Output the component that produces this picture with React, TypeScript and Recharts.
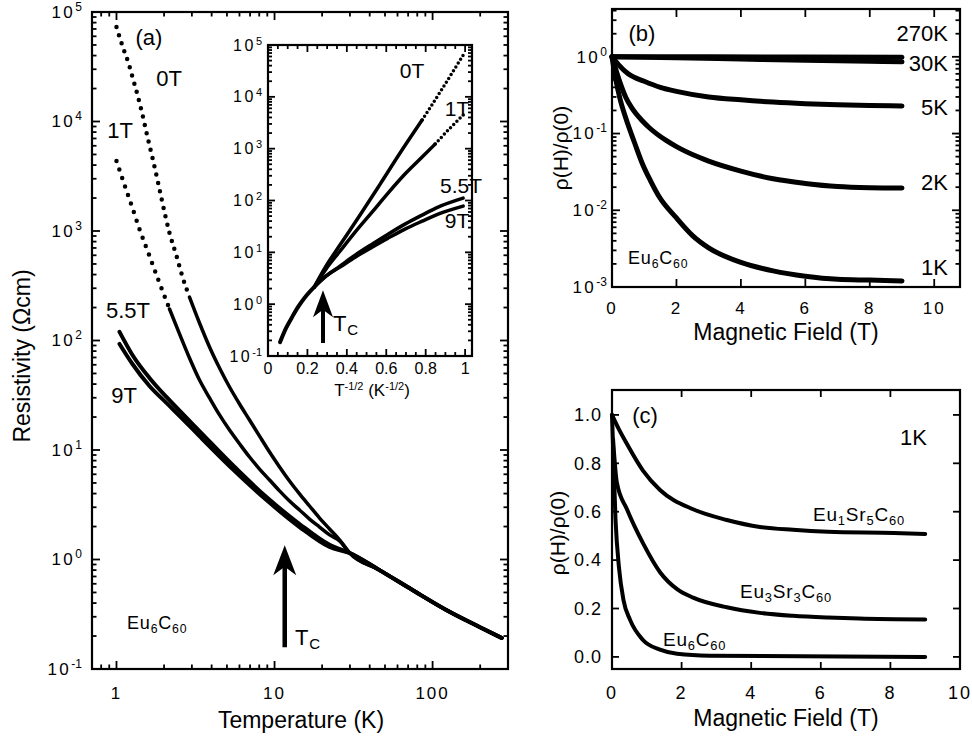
import React from 'react';
import { ComposedChart, Line, XAxis, YAxis, ReferenceLine } from 'recharts';

const FONT = '"Liberation Sans", Arial, Helvetica, sans-serif';

// ---------- panel (a): resistivity vs temperature (log-log) ----------
const t0TLow = [1, 1.06, 1.124, 1.191, 1.262, 1.358, 1.461, 1.571, 1.69, 1.818, 1.955, 2.165, 2.397, 2.617, 2.897];
const rho0TLow = [72900, 55500, 43200, 34200, 25500, 17500, 11500, 7210, 4650, 2920, 1800, 960, 592, 380, 249];
const t0THigh = [2.897, 3.352, 3.878, 4.487, 5.191, 6.005, 6.947, 8.037, 9.299, 10.76, 12.44, 14.4, 16.65, 19.27, 22.29, 25.79];
const rho0THigh = [249, 144.5, 87.3, 56.1, 37.6, 26.3, 18.8, 13.4, 9.59, 7.0, 5.21, 3.97, 3.08, 2.39, 1.9, 1.51];

const t1TLow = [1, 1.124, 1.262, 1.398, 1.617, 1.871, 2.165];
const rho1TLow = [4360, 2630, 1620, 1040, 592, 335, 194];
const t1THigh = [2.165, 2.505, 2.897, 3.352, 3.878, 4.487, 5.191, 6.005, 6.947, 8.037, 9.299, 10.76, 12.44, 14.4, 16.65, 19.27, 22.29, 25.79];
const rho1THigh = [194, 115, 69.2, 43.5, 29.9, 20.9, 15.2, 11.4, 8.63, 6.7, 5.32, 4.23, 3.42, 2.83, 2.34, 1.98, 1.68, 1.48];

const tHighField = [1.045, 1.262, 1.617, 2.07, 2.7, 3.35, 5.43, 8.89, 14.4, 22.3];
const rho55T = [120, 73.8, 45.5, 30.5, 20.5, 14.9, 7.3, 3.72, 2.11, 1.36];
const rho9T = [93, 61, 38.4, 26.9, 18.4, 13.4, 6.7, 3.49, 1.98, 1.3];

const tTail = [29.9, 46.1, 74.6, 122, 198, 274];
const rhoTail = [1.146, 0.8, 0.526, 0.346, 0.242, 0.192];

// ---------- inset: resistivity vs T^-1/2 ----------
const uCommon = [0.061, 0.0914, 0.122, 0.152, 0.188, 0.234];
const rhoCommon = [0.185, 0.344, 0.561, 0.875, 1.36, 2.13];
const u0T = [0.234, 0.294, 0.365, 0.467, 0.569, 0.67, 0.782];
const rhoIn0T = [2.13, 5.42, 13.8, 52.3, 207, 822, 3565];
const u0TDots = [0.782, 0.883, 1.0];
const rhoIn0TDots = [3565, 14150, 73300];
const u1T = [0.234, 0.294, 0.365, 0.442, 0.528, 0.609, 0.695, 0.782, 0.848];
const rhoIn1T = [2.13, 4.74, 10.5, 24.5, 59.7, 139, 324, 689, 1227];
const u1TDots = [0.848, 0.924, 1.0];
const rhoIn1TDots = [1227, 2500, 4860];
const uHigh = [0.234, 0.294, 0.365, 0.442, 0.528, 0.609, 0.695, 0.782, 0.863, 0.99];
const rhoIn55T = [2.13, 3.47, 5.42, 8.83, 14.4, 22.4, 35.0, 52.3, 74.6, 111];
const rhoIn9T = [2.13, 3.47, 5.18, 8.07, 12.6, 18.8, 28.1, 40.0, 54.6, 78];

// ---------- panel (b): normalized MR of Eu6C60 ----------
const h270K = [0, 3, 6, 9];
const r270K = [1, 1, 0.995, 0.99];
const h30K = [0, 2, 4, 6, 8, 9];
const r30K = [1, 0.975, 0.935, 0.9, 0.875, 0.86];
const h5K = [0, 0.2, 0.5, 1, 1.5, 2, 3, 4, 5, 6, 7, 8, 9];
const r5K = [1, 0.79, 0.6, 0.48, 0.4, 0.355, 0.3, 0.275, 0.257, 0.245, 0.237, 0.232, 0.229];
const h2K = [0, 0.22, 0.43, 0.62, 0.93, 1.15, 1.68, 2, 2.7, 3, 4, 5, 6, 7, 8, 9];
const r2K = [1, 0.501, 0.295, 0.214, 0.148, 0.12, 0.0813, 0.0676, 0.049, 0.0437, 0.0324, 0.0257, 0.0224, 0.0204, 0.0197, 0.0195];
const h1K = [0, 0.12, 0.25, 0.43, 0.7, 0.93, 1.2, 1.46, 2, 2.5, 3, 4, 5, 6, 7, 8, 9];
const r1K = [1, 0.501, 0.282, 0.158, 0.0759, 0.0417, 0.024, 0.0151, 0.00794, 0.00468, 0.00324, 0.00209, 0.00162, 0.00138, 0.00126, 0.00123, 0.0012];

// ---------- panel (c): 1 K, three compounds ----------
const hEu1 = [0, 0.2, 0.43, 0.89, 1.38, 2.33, 3.3, 4.25, 5.2, 6.2, 8.1, 9];
const rEu1 = [1, 0.94, 0.88, 0.77, 0.69, 0.61, 0.566, 0.537, 0.525, 0.517, 0.512, 0.508];
const hEu3 = [0.03, 0.14, 0.43, 0.89, 1.38, 1.87, 2.33, 3.3, 4.25, 5.2, 6.2, 7.1, 9];
const rEu3 = [0.9, 0.72, 0.61, 0.47, 0.35, 0.28, 0.245, 0.205, 0.182, 0.17, 0.163, 0.159, 0.155];
const hEu6 = [0, 0.1, 0.2, 0.33, 0.52, 0.89, 1.38, 1.87, 2.8, 9];
const rEu6 = [1, 0.57, 0.37, 0.235, 0.153, 0.07, 0.03, 0.013, 0.005, 0];

// ---------- ticks ----------
const mainXDecades = [0.1, 1, 10, 100];
const mainXMajors = [1, 10, 100];
const mainYDecades = [0.1, 1, 10, 100, 1000, 10000, 100000];
const insetXMajors = [0, 0.2, 0.4, 0.6, 0.8, 1];
const insetXMinors = [0.05, 0.1, 0.15, 0.25, 0.3, 0.35, 0.45, 0.5, 0.55, 0.65, 0.7, 0.75, 0.85, 0.9, 0.95];
const bYDecades = [0.001, 0.01, 0.1, 1];
const fieldTicks = [0, 2, 4, 6, 8, 10];
const cYTicks = [0, 0.2, 0.4, 0.6, 0.8, 1.0];

const withMinors = (dec: number[], lo: number, hi: number) =>
  dec
    .flatMap((d) => [1, 2, 3, 4, 5, 6, 7, 8, 9].map((k) => k * d))
    .filter((v) => v > lo * 1.001 && v < hi * 0.999);

const pts = (xs: number[], ys: number[]) => xs.map((x, i) => ({ x, y: ys[i] }));

const isIn = (list: number[], v: number) =>
  list.some((m) => Math.abs(m - v) <= Math.abs(m) * 1e-6 + 1e-9);

const pow10 = (sup: number, rise: number) => (v: number) => {
  const e = Math.round(Math.log10(v));
  return (
    <>
      <tspan letterSpacing={2.5}>10</tspan>
      <tspan dy={-rise} fontSize={sup}>{e}</tspan>
    </>
  );
};
const plain = (v: number) => <tspan letterSpacing={2}>{String(v)}</tspan>;
const oneDec = (v: number) => <tspan letterSpacing={1}>{v.toFixed(1)}</tspan>;
const insetX = (v: number) => (v === 0 || v === 1 ? String(v) : v.toFixed(1));

interface AxisSpec {
  scale: 'log' | 'linear';
  domain: [number, number];
  ticks: number[];
  majors: number[];
  label: (v: number) => React.ReactNode;
  offset: number;
}
interface Panel {
  left: number; top: number; right: number; bottom: number; // plot area on the page
  padL: number; padB: number; padT: number; padR: number;
  x: AxisSpec; y: AxisSpec;
  majorLen: number; minorLen: number; fontSize: number;
}

const panelA: Panel = {
  left: 92, top: 12, right: 508, bottom: 669, padL: 92, padB: 68, padT: 12, padR: 10,
  x: { scale: 'log', domain: [0.7, 300], ticks: withMinors(mainXDecades, 0.7, 300), majors: mainXMajors, label: plain, offset: 30 },
  y: { scale: 'log', domain: [0.1, 100000], ticks: withMinors(mainYDecades, 0.05, 200000), majors: mainYDecades, label: pow10(12, 7), offset: 10 },
  majorLen: 8, minorLen: 4.5, fontSize: 17,
};
const panelInset: Panel = {
  left: 268, top: 45, right: 472, bottom: 356, padL: 60, padB: 40, padT: 10, padR: 6,
  x: { scale: 'linear', domain: [0, 1.035], ticks: insetXMajors.concat(insetXMinors), majors: insetXMajors, label: insetX, offset: 18 },
  y: { scale: 'log', domain: [0.1, 100000], ticks: withMinors(mainYDecades, 0.05, 200000), majors: mainYDecades, label: pow10(11, 6), offset: 6 },
  majorLen: 7, minorLen: 4, fontSize: 16,
};
const panelB: Panel = {
  left: 612, top: 9, right: 960, bottom: 287, padL: 60, padB: 40, padT: 9, padR: 12,
  x: { scale: 'linear', domain: [0, 10.8], ticks: fieldTicks, majors: fieldTicks, label: plain, offset: 27 },
  y: { scale: 'log', domain: [0.001, 4.2], ticks: withMinors(bYDecades, 0.0009, 4.5), majors: bYDecades, label: pow10(12, 7), offset: 5 },
  majorLen: 8, minorLen: 4.5, fontSize: 17,
};
const panelC: Panel = {
  left: 612, top: 390, right: 960, bottom: 669, padL: 60, padB: 40, padT: 9, padR: 12,
  x: { scale: 'linear', domain: [0, 10], ticks: fieldTicks, majors: fieldTicks, label: plain, offset: 30 },
  y: { scale: 'linear', domain: [-0.05, 1.103], ticks: cYTicks, majors: cYTicks, label: oneDec, offset: 10 },
  majorLen: 7, minorLen: 4, fontSize: 18,
};

// axis tick labels
function makeLabel(side: 'bottom' | 'left', a: AxisSpec, fontSize: number) {
  return (props: any) => {
    const x = Number(props.x);
    const y = Number(props.y);
    const v = Number(props.payload.value);
    if (!isIn(a.majors, v)) return <g />;
    return side === 'bottom' ? (
      <text x={x} y={y + a.offset} textAnchor="middle" fontSize={fontSize} fontFamily={FONT} fill="#000">
        {a.label(v)}
      </text>
    ) : (
      <text x={x - a.offset} y={y} dy="0.35em" textAnchor="end" fontSize={fontSize} fontFamily={FONT} fill="#000">
        {a.label(v)}
      </text>
    );
  };
}

function PanelChart({ p, children }: { p: Panel; children: React.ReactNode }) {
  const common = { type: 'number' as const, interval: 0 as const, tickSize: 0, tickMargin: 0, tickLine: false, axisLine: false };
  return (
    <div style={{ position: 'absolute', left: p.left - p.padL, top: p.top - p.padT }}>
      <ComposedChart width={p.right - p.left + p.padL + p.padR} height={p.bottom - p.top + p.padT + p.padB}
        margin={{ top: p.padT, right: p.padR, bottom: 0, left: 0 }}>
        <XAxis xAxisId="b" dataKey="x" scale={p.x.scale} domain={p.x.domain} ticks={p.x.ticks} height={p.padB}
          tick={makeLabel('bottom', p.x, p.fontSize)} {...common} />
        <YAxis yAxisId="l" dataKey="y" scale={p.y.scale} domain={p.y.domain} ticks={p.y.ticks} width={p.padL}
          tick={makeLabel('left', p.y, p.fontSize)} {...common} />
        {children}
      </ComposedChart>
    </div>
  );
}

// frame with inward ticks on all four sides, placed on the same plot rectangle
function FrameTicks({ p }: { p: Panel }) {
  const f = (s: 'log' | 'linear') => (s === 'log' ? Math.log10 : (v: number) => v);
  const fx = f(p.x.scale);
  const fy = f(p.y.scale);
  const px = (v: number) =>
    p.left + ((fx(v) - fx(p.x.domain[0])) / (fx(p.x.domain[1]) - fx(p.x.domain[0]))) * (p.right - p.left);
  const py = (v: number) =>
    p.bottom - ((fy(v) - fy(p.y.domain[0])) / (fy(p.y.domain[1]) - fy(p.y.domain[0]))) * (p.bottom - p.top);
  return (
    <g stroke="#000" strokeWidth={1.8}>
      {p.x.ticks.map((v) => {
        const L = isIn(p.x.majors, v) ? p.majorLen : p.minorLen;
        const X = px(v);
        return (
          <g key={`x${v}`}>
            <line x1={X} y1={p.bottom} x2={X} y2={p.bottom - L} />
            <line x1={X} y1={p.top} x2={X} y2={p.top + L} />
          </g>
        );
      })}
      {p.y.ticks.map((v) => {
        const L = isIn(p.y.majors, v) ? p.majorLen : p.minorLen;
        const Y = py(v);
        return (
          <g key={`y${v}`}>
            <line x1={p.left} y1={Y} x2={p.left + L} y2={Y} />
            <line x1={p.right} y1={Y} x2={p.right - L} y2={Y} />
          </g>
        );
      })}
      <rect x={p.left} y={p.top} width={p.right - p.left} height={p.bottom - p.top} fill="none" strokeWidth={2.2} />
    </g>
  );
}

function curve(key: string, xs: number[], ys: number[], width: number, dash?: string) {
  return (
    <Line key={key} xAxisId="b" yAxisId="l" data={pts(xs, ys)} dataKey="y" type="monotone"
      stroke="#000" strokeWidth={width} strokeDasharray={dash} strokeLinecap="round"
      dot={false} activeDot={false} isAnimationActive={false} />
  );
}

const arrow = (headLen: number, half: number, width: number) => (p: any) => {
  const tipTop = p.y1 < p.y2;
  const tx = tipTop ? p.x1 : p.x2;
  const ty = tipTop ? p.y1 : p.y2;
  const bx = tipTop ? p.x2 : p.x1;
  const by = tipTop ? p.y2 : p.y1;
  return (
    <g>
      <line x1={bx} y1={by} x2={tx} y2={ty + headLen * 0.6} stroke="#000" strokeWidth={width} />
      <polygon
        points={`${tx},${ty} ${tx - half},${ty + headLen} ${tx},${ty + headLen * 0.72} ${tx + half},${ty + headLen}`}
        fill="#000" />
    </g>
  );
};

const Formula = ({ x, y, parts, size }: { x: number; y: number; parts: [string, string][]; size: number }) => (
  <text x={x} y={y} fontSize={size} fontFamily={FONT} letterSpacing={0.8}>
    {parts.map(([main, sub], i) => (
      <React.Fragment key={i}>
        <tspan dy={i === 0 ? 0 : -4}>{main}</tspan>
        <tspan dy={4} fontSize={size * 0.68}>{sub}</tspan>
      </React.Fragment>
    ))}
  </text>
);

export default function App() {
  return (
    <div style={{ position: 'absolute', left: 0, top: 0, width: 972, height: 737, background: '#fff' }}>
      <PanelChart p={panelA}>
        {curve('a0l', t0TLow, rho0TLow, 4.5, '0 8.5')}
        {curve('a0h', t0THigh.concat(tTail), rho0THigh.concat(rhoTail), 3.5)}
        {curve('a1l', t1TLow, rho1TLow, 4.5, '0 9')}
        {curve('a1h', t1THigh.concat(tTail), rho1THigh.concat(rhoTail), 3.5)}
        {curve('a55', tHighField.concat(tTail), rho55T.concat(rhoTail), 4)}
        {curve('a9', tHighField.concat(tTail), rho9T.concat(rhoTail), 4)}
        <ReferenceLine xAxisId="b" yAxisId="l" segment={[{ x: 11.6, y: 0.158 }, { x: 11.6, y: 1.35 }]}
          shape={arrow(30, 11.5, 4.5)} />
      </PanelChart>

      <PanelChart p={panelInset}>
        {curve('iC', uCommon, rhoCommon, 4)}
        {curve('i0', u0T, rhoIn0T, 3.5)}
        {curve('i0d', u0TDots, rhoIn0TDots, 3.5, '0 4.5')}
        {curve('i1', u1T, rhoIn1T, 3.5)}
        {curve('i1d', u1TDots, rhoIn1TDots, 3.5, '0 4.5')}
        {curve('i55', uHigh, rhoIn55T, 3.5)}
        {curve('i9', uHigh, rhoIn9T, 3.5)}
        <ReferenceLine xAxisId="b" yAxisId="l" segment={[{ x: 0.279, y: 0.178 }, { x: 0.279, y: 1.86 }]}
          shape={arrow(27, 10, 4)} />
      </PanelChart>

      <PanelChart p={panelB}>
        {curve('b270', h270K, r270K, 5)}
        {curve('b30', h30K, r30K, 5)}
        {curve('b5', h5K, r5K, 5)}
        {curve('b2', h2K, r2K, 5)}
        {curve('b1', h1K, r1K, 5)}
      </PanelChart>

      <PanelChart p={panelC}>
        {curve('cEu1', hEu1, rEu1, 4)}
        {curve('cEu3', hEu3, rEu3, 4)}
        {curve('cEu6', hEu6, rEu6, 4)}
      </PanelChart>

      {/* frames, ticks and text */}
      <svg width={972} height={737} style={{ position: 'absolute', left: 0, top: 0, pointerEvents: 'none' }}
        fontFamily={FONT} fill="#000">
        <FrameTicks p={panelA} />
        <FrameTicks p={panelInset} />
        <FrameTicks p={panelB} />
        <FrameTicks p={panelC} />

        <text x={22} y={356} fontSize={23} textAnchor="middle" dominantBaseline="central" transform="rotate(-90 22 356)">
          Resistivity (Ωcm)
        </text>
        <text x={301} y={728} fontSize={23} textAnchor="middle">Temperature (K)</text>
        <text x={372} y={396} fontSize={17} textAnchor="middle">
          <tspan>T</tspan><tspan dy={-6} fontSize={11}>-1/2</tspan><tspan dy={6}> (K</tspan>
          <tspan dy={-6} fontSize={11}>-1/2</tspan><tspan dy={6}>)</tspan>
        </text>
        <text x={786} y={340} fontSize={23} textAnchor="middle">Magnetic Field (T)</text>
        <text x={786} y={726} fontSize={23} textAnchor="middle">Magnetic Field (T)</text>
        <text x={560} y={148} fontSize={21} textAnchor="middle" dominantBaseline="central" transform="rotate(-90 560 148)">
          ρ(H)/ρ(0)
        </text>
        <text x={557} y={533} fontSize={21} textAnchor="middle" dominantBaseline="central" transform="rotate(-90 557 533)">
          ρ(H)/ρ(0)
        </text>

        <text x={149} y={45} fontSize={22} textAnchor="middle">(a)</text>
        <text x={169} y={86} fontSize={22} textAnchor="middle">0T</text>
        <text x={120} y={138} fontSize={22} textAnchor="middle">1T</text>
        <text x={128} y={318} fontSize={22} textAnchor="middle">5.5T</text>
        <text x={124} y={403} fontSize={22} textAnchor="middle">9T</text>
        <Formula x={127} y={629} size={18} parts={[['Eu', '6'], ['C', '60']]} />
        <Formula x={295} y={645} size={22} parts={[['T', 'C']]} />

        <text x={412} y={78} fontSize={21} textAnchor="middle">0T</text>
        <text x={457} y={116} fontSize={21} textAnchor="middle">1T</text>
        <text x={461} y={193} fontSize={21} textAnchor="middle">5.5T</text>
        <text x={457} y={228} fontSize={21} textAnchor="middle">9T</text>
        <Formula x={333} y={331} size={22} parts={[['T', 'C']]} />

        <text x={642} y={41} fontSize={22} textAnchor="middle">(b)</text>
        <text x={948} y={41} fontSize={22} textAnchor="end">270K</text>
        <text x={948} y={71} fontSize={22} textAnchor="end">30K</text>
        <text x={948} y={115} fontSize={22} textAnchor="end">5K</text>
        <text x={948} y={190} fontSize={22} textAnchor="end">2K</text>
        <text x={948} y={275} fontSize={22} textAnchor="end">1K</text>
        <Formula x={628} y={264} size={18} parts={[['Eu', '6'], ['C', '60']]} />

        <text x={645} y={423} fontSize={22} textAnchor="middle">(c)</text>
        <text x={927} y={445} fontSize={22} textAnchor="end">1K</text>
        <Formula x={813} y={521} size={19} parts={[['Eu', '1'], ['Sr', '5'], ['C', '60']]} />
        <Formula x={740} y={598} size={19} parts={[['Eu', '3'], ['Sr', '3'], ['C', '60']]} />
        <Formula x={663} y={646} size={19} parts={[['Eu', '6'], ['C', '60']]} />
      </svg>
    </div>
  );
}
